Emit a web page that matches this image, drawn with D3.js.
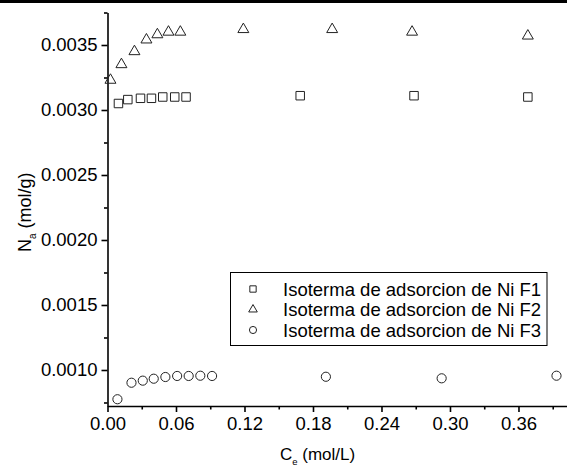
<!DOCTYPE html>
<html>
<head>
<meta charset="utf-8">
<script src="https://cdn.jsdelivr.net/npm/d3@7"></script>
<style>
    body { margin: 0; background: #fff; }
    svg { display: block; font-family: "Liberation Sans", Arial, sans-serif; }
</style>
</head>
<body>
<div id="chart"></div>
<script>
// values
const f1Ce = [0.0096, 0.0178, 0.0289, 0.0385, 0.0484, 0.0589, 0.0688, 0.1688, 0.2685, 0.3682];
const f1Na = [0.00305, 0.00308, 0.00309, 0.00309, 0.00310, 0.00310, 0.00310, 0.00311, 0.00311, 0.00310];

const f2Ce = [0.0026, 0.0122, 0.0236, 0.0341, 0.0437, 0.0534, 0.0638, 0.1190, 0.1968, 0.2668, 0.3682];
const f2Na = [0.00323, 0.00335, 0.00345, 0.00354, 0.00358, 0.00360, 0.00360, 0.00362, 0.00362, 0.00360, 0.00357];

const f3Ce = [0.0087, 0.0210, 0.0309, 0.0405, 0.0507, 0.0610, 0.0711, 0.0813, 0.0916, 0.1913, 0.2927, 0.3933];
const f3Na = [0.000775, 0.000902, 0.000918, 0.000933, 0.000946, 0.000954, 0.000954, 0.000956, 0.000954, 0.000948, 0.000936, 0.000956];

const seriesNames = ['Isoterma de adsorcion de Ni F1', 'Isoterma de adsorcion de Ni F2', 'Isoterma de adsorcion de Ni F3'];

const xTicks = [0, 0.06, 0.12, 0.18, 0.24, 0.30, 0.36];
const xMinor = [0.03, 0.09, 0.15, 0.21, 0.27, 0.33, 0.39];
const yTicks = [0.0010, 0.0015, 0.0020, 0.0025, 0.0030, 0.0035];
const yMinor = [0.00075, 0.00125, 0.00175, 0.00225, 0.00275, 0.00325, 0.00375];

const xDomain = [0, 0.4025];
const yDomain = [0.000723, 0.00375];

//dimensions
const width = 567, height = 468;
const plot = {left: 107.5, right: 567, top: 12.5, bottom: 406};

const svg = d3.select('#chart')
    .append('svg')
    .attr('width', width)
    .attr('height', height);

//thick line along the top edge
svg.append('line')
    .attr('x1', 0).attr('x2', width)
    .attr('y1', 1.5).attr('y2', 1.5)
    .attr('stroke', '#000')
    .attr('stroke-width', 3);

const xScale = d3.scaleLinear().domain(xDomain).range([plot.left, plot.right]);
const yScale = d3.scaleLinear().domain(yDomain).range([plot.bottom, plot.top]);

//axes
const xAxisG = svg.append('g')
    .attr('transform', `translate(0,${plot.bottom})`)
    .call(d3.axisBottom(xScale)
        .tickValues(xTicks)
        .tickSize(6)
        .tickSizeOuter(0)
        .tickPadding(5)
        .tickFormat(d3.format('.2f')));

const xMinorG = svg.append('g')
    .attr('transform', `translate(0,${plot.bottom})`)
    .call(d3.axisBottom(xScale)
        .tickValues(xMinor)
        .tickSize(3.5)
        .tickSizeOuter(0)
        .tickFormat(''));
xMinorG.select('.domain').remove();

const yAxisG = svg.append('g')
    .attr('transform', `translate(${plot.left},0)`)
    .call(d3.axisLeft(yScale)
        .tickValues(yTicks)
        .tickSize(6)
        .tickSizeOuter(0)
        .tickPadding(4)
        .tickFormat(d3.format('.4f')));

const yMinorG = svg.append('g')
    .attr('transform', `translate(${plot.left},0)`)
    .call(d3.axisLeft(yScale)
        .tickValues(yMinor)
        .tickSize(3.5)
        .tickSizeOuter(0)
        .tickFormat(''));
yMinorG.select('.domain').remove();

svg.selectAll('.domain, .tick line')
    .attr('stroke', '#000')
    .attr('stroke-width', 1.6);

svg.selectAll('.tick text')
    .attr('font-size', 18.5)
    .attr('font-family', '"Liberation Sans", Arial, sans-serif')
    .attr('fill', '#000');

//axis titles
const xTitle = svg.append('text')
    .attr('x', 280)
    .attr('y', 460)
    .attr('font-size', 17)
    .attr('fill', '#000');
xTitle.append('tspan').text('C');
xTitle.append('tspan').attr('font-size', 9.5).attr('dy', 5).text('e');
xTitle.append('tspan').attr('dy', -5).text(' (mol/L)');

const yTitle = svg.append('text')
    .attr('transform', 'translate(31,252) rotate(-90)')
    .attr('font-size', 18)
    .attr('fill', '#000');
yTitle.append('tspan').text('N');
yTitle.append('tspan').attr('font-size', 10).attr('dy', 5).text('a');
yTitle.append('tspan').attr('dy', -5).text(' (mol/g)');

//points
const symSquare = d3.symbol().type(d3.symbolSquare).size(72);
const symTriangle = d3.symbol().type(d3.symbolTriangle).size(52);
const symCircle = d3.symbol().type(d3.symbolCircle).size(66);

function drawSeries(xs, ys, sym) {
    svg.append('g')
        .selectAll('path')
        .data(xs.map((x, i) => ({x: x, y: ys[i]})))
        .enter()
        .append('path')
        .attr('d', sym)
        .attr('transform', d => `translate(${xScale(d.x)},${yScale(d.y)})`)
        .attr('fill', 'none')
        .attr('stroke', '#222')
        .attr('stroke-width', 1);
}

drawSeries(f1Ce, f1Na, symSquare);
drawSeries(f2Ce, f2Na, symTriangle);
drawSeries(f3Ce, f3Na, symCircle);

//legend
const legend = svg.append('g');
legend.append('rect')
    .attr('x', 230.5).attr('y', 272.5)
    .attr('width', 316.5).attr('height', 73)
    .attr('fill', '#fff')
    .attr('stroke', '#000')
    .attr('stroke-width', 1);

const legendSyms = [
    d3.symbol().type(d3.symbolSquare).size(40),
    d3.symbol().type(d3.symbolTriangle).size(32),
    d3.symbol().type(d3.symbolCircle).size(40)
];

seriesNames.forEach((name, i) => {
    const cy = 289 + i * 20.5;
    legend.append('path')
        .attr('d', legendSyms[i])
        .attr('transform', `translate(253,${cy})`)
        .attr('fill', 'none')
        .attr('stroke', '#222')
        .attr('stroke-width', 1);
    legend.append('text')
        .attr('x', 283)
        .attr('y', cy + 6.5)
        .attr('font-size', 18.5)
        .attr('fill', '#000')
        .text(name);
});
</script>
</body>
</html>
